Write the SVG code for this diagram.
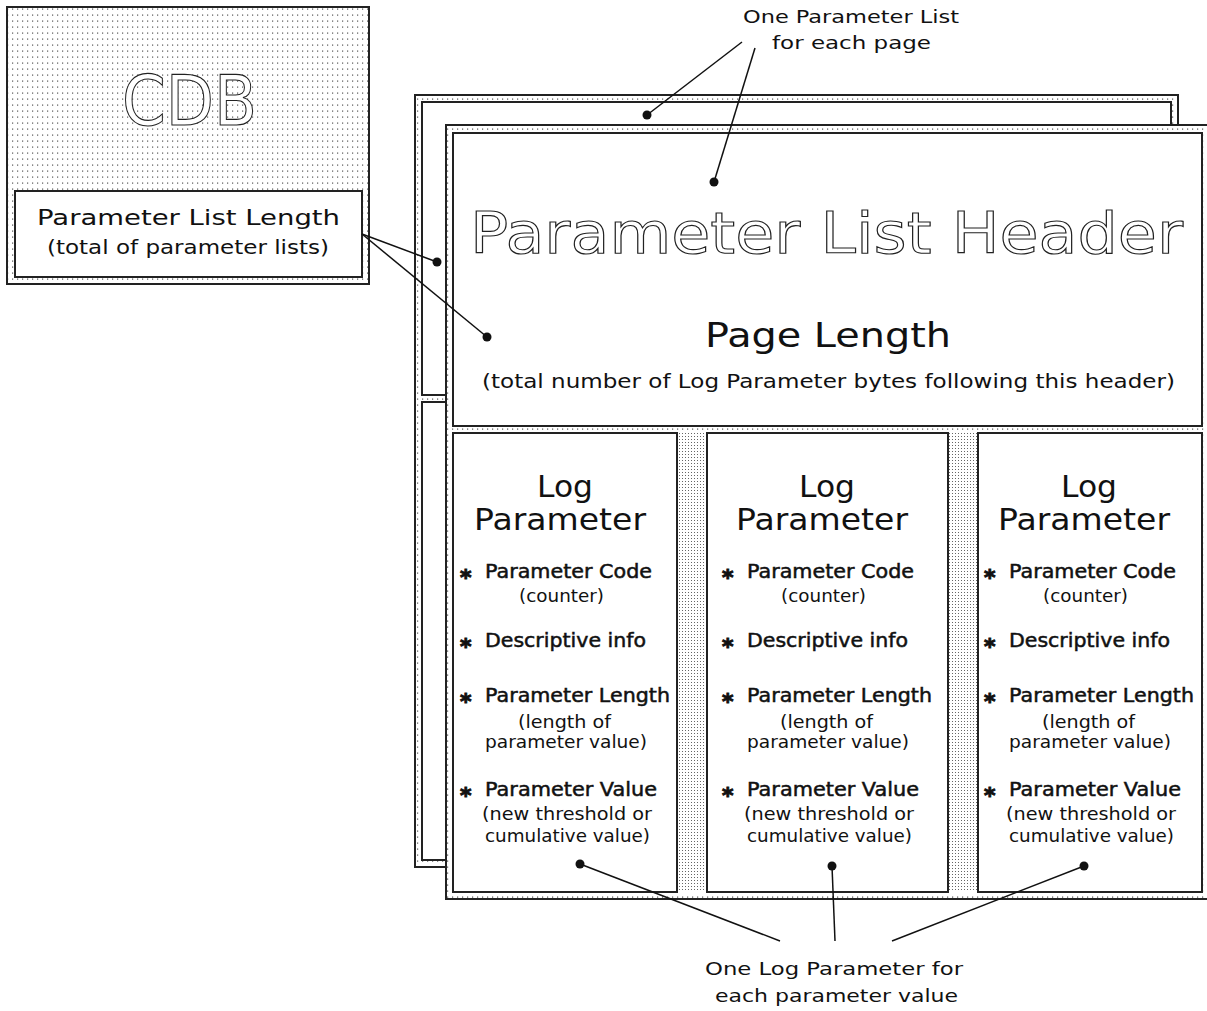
<svg xmlns="http://www.w3.org/2000/svg" width="1207" height="1011" viewBox="0 0 1207 1011">
<defs>
<pattern id="dots" width="5" height="6" patternUnits="userSpaceOnUse">
<rect width="5" height="6" fill="#fff"/>
<rect x="2" y="2.5" width="1.2" height="1.2" fill="#555"/>
</pattern>
<pattern id="dots2" width="3" height="3" patternUnits="userSpaceOnUse">
<rect width="3" height="3" fill="#fff"/>
<rect x="1" y="1" width="1" height="1" fill="#666"/>
</pattern>
</defs>
<style>
.frame{fill:url(#dots);stroke:#222;stroke-width:2}
.box{fill:#fff;stroke:#222;stroke-width:2}
.t{font-family:"DejaVu Sans","Liberation Sans",sans-serif;fill:#111}
.b{font-family:"DejaVu Sans","Liberation Sans",sans-serif;fill:#111;stroke:#111;stroke-width:0.5}
.ast{font-family:"DejaVu Sans","Liberation Sans",sans-serif;fill:#111;stroke:#111;stroke-width:1;font-weight:bold}
.big{font-family:"DejaVu Sans","Liberation Sans",sans-serif;fill:#fff;stroke:#222;stroke-width:1.1}
.ln{stroke:#111;stroke-width:1.5;fill:none}
.dot{fill:#111}
</style>

<g id="cdb">
<rect class="frame" x="7" y="7" width="362" height="277"/>
<text class="big" x="122" y="125" font-size="70" textLength="135" lengthAdjust="spacingAndGlyphs">CDB</text>
<rect class="box" x="15" y="191" width="347" height="86"/>
<text class="t" x="37" y="225" font-size="22" textLength="303" lengthAdjust="spacingAndGlyphs">Parameter List Length</text>
<text class="t" x="47" y="254" font-size="19" textLength="282" lengthAdjust="spacingAndGlyphs">(total of parameter lists)</text>
</g>

<g id="back-page">
<rect class="frame" x="415" y="95" width="763" height="772"/>
<rect class="box" x="422" y="102" width="749" height="293"/>
<rect class="box" x="422" y="402" width="749" height="458"/>
</g>

<g id="front-page">
<rect class="frame" x="446" y="125" width="775" height="774"/>
<rect x="677" y="433" width="30" height="459" fill="url(#dots2)"/>
<rect x="948" y="433" width="30" height="459" fill="url(#dots2)"/>
</g>

<g id="header">
<rect class="box" x="453" y="133" width="749" height="293"/>
<text class="big" x="470" y="253" font-size="57" textLength="713" lengthAdjust="spacingAndGlyphs">Parameter List Header</text>
<text class="t" x="705" y="347" font-size="34" textLength="246" lengthAdjust="spacingAndGlyphs">Page Length</text>
<text class="t" x="482" y="388" font-size="19" textLength="693" lengthAdjust="spacingAndGlyphs">(total number of Log Parameter bytes following this header)</text>
</g>

<g id="log1">
<rect class="box" x="453" y="433" width="224" height="459"/>
<g>
<text class="t" x="537" y="497" font-size="30" textLength="56" lengthAdjust="spacingAndGlyphs">Log</text>
<text class="t" x="474" y="530" font-size="30" textLength="172" lengthAdjust="spacingAndGlyphs">Parameter</text>
<text class="ast" x="460" y="585" font-size="22">*</text>
<text class="b" x="485" y="578" font-size="19" textLength="167" lengthAdjust="spacingAndGlyphs">Parameter Code</text>
<text class="t" x="519" y="602" font-size="17" textLength="85" lengthAdjust="spacingAndGlyphs">(counter)</text>
<text class="ast" x="460" y="654" font-size="22">*</text>
<text class="b" x="485" y="647" font-size="19" textLength="161" lengthAdjust="spacingAndGlyphs">Descriptive info</text>
<text class="ast" x="460" y="709" font-size="22">*</text>
<text class="b" x="485" y="702" font-size="19" textLength="185" lengthAdjust="spacingAndGlyphs">Parameter Length</text>
<text class="t" x="518" y="728" font-size="17" textLength="93" lengthAdjust="spacingAndGlyphs">(length of</text>
<text class="t" x="485" y="748" font-size="17" textLength="162" lengthAdjust="spacingAndGlyphs">parameter value)</text>
<text class="ast" x="460" y="803" font-size="22">*</text>
<text class="b" x="485" y="796" font-size="19" textLength="172" lengthAdjust="spacingAndGlyphs">Parameter Value</text>
<text class="t" x="482" y="820" font-size="17" textLength="170" lengthAdjust="spacingAndGlyphs">(new threshold or</text>
<text class="t" x="485" y="842" font-size="17" textLength="165" lengthAdjust="spacingAndGlyphs">cumulative value)</text>
</g>
</g>

<g id="log2">
<rect class="box" x="707" y="433" width="241" height="459"/>
<g transform="translate(262,0)">
<text class="t" x="537" y="497" font-size="30" textLength="56" lengthAdjust="spacingAndGlyphs">Log</text>
<text class="t" x="474" y="530" font-size="30" textLength="172" lengthAdjust="spacingAndGlyphs">Parameter</text>
<text class="ast" x="460" y="585" font-size="22">*</text>
<text class="b" x="485" y="578" font-size="19" textLength="167" lengthAdjust="spacingAndGlyphs">Parameter Code</text>
<text class="t" x="519" y="602" font-size="17" textLength="85" lengthAdjust="spacingAndGlyphs">(counter)</text>
<text class="ast" x="460" y="654" font-size="22">*</text>
<text class="b" x="485" y="647" font-size="19" textLength="161" lengthAdjust="spacingAndGlyphs">Descriptive info</text>
<text class="ast" x="460" y="709" font-size="22">*</text>
<text class="b" x="485" y="702" font-size="19" textLength="185" lengthAdjust="spacingAndGlyphs">Parameter Length</text>
<text class="t" x="518" y="728" font-size="17" textLength="93" lengthAdjust="spacingAndGlyphs">(length of</text>
<text class="t" x="485" y="748" font-size="17" textLength="162" lengthAdjust="spacingAndGlyphs">parameter value)</text>
<text class="ast" x="460" y="803" font-size="22">*</text>
<text class="b" x="485" y="796" font-size="19" textLength="172" lengthAdjust="spacingAndGlyphs">Parameter Value</text>
<text class="t" x="482" y="820" font-size="17" textLength="170" lengthAdjust="spacingAndGlyphs">(new threshold or</text>
<text class="t" x="485" y="842" font-size="17" textLength="165" lengthAdjust="spacingAndGlyphs">cumulative value)</text>
</g>
</g>

<g id="log3">
<rect class="box" x="978" y="433" width="224" height="459"/>
<g transform="translate(524,0)">
<text class="t" x="537" y="497" font-size="30" textLength="56" lengthAdjust="spacingAndGlyphs">Log</text>
<text class="t" x="474" y="530" font-size="30" textLength="172" lengthAdjust="spacingAndGlyphs">Parameter</text>
<text class="ast" x="460" y="585" font-size="22">*</text>
<text class="b" x="485" y="578" font-size="19" textLength="167" lengthAdjust="spacingAndGlyphs">Parameter Code</text>
<text class="t" x="519" y="602" font-size="17" textLength="85" lengthAdjust="spacingAndGlyphs">(counter)</text>
<text class="ast" x="460" y="654" font-size="22">*</text>
<text class="b" x="485" y="647" font-size="19" textLength="161" lengthAdjust="spacingAndGlyphs">Descriptive info</text>
<text class="ast" x="460" y="709" font-size="22">*</text>
<text class="b" x="485" y="702" font-size="19" textLength="185" lengthAdjust="spacingAndGlyphs">Parameter Length</text>
<text class="t" x="518" y="728" font-size="17" textLength="93" lengthAdjust="spacingAndGlyphs">(length of</text>
<text class="t" x="485" y="748" font-size="17" textLength="162" lengthAdjust="spacingAndGlyphs">parameter value)</text>
<text class="ast" x="460" y="803" font-size="22">*</text>
<text class="b" x="485" y="796" font-size="19" textLength="172" lengthAdjust="spacingAndGlyphs">Parameter Value</text>
<text class="t" x="482" y="820" font-size="17" textLength="170" lengthAdjust="spacingAndGlyphs">(new threshold or</text>
<text class="t" x="485" y="842" font-size="17" textLength="165" lengthAdjust="spacingAndGlyphs">cumulative value)</text>
</g>
</g>

<g id="label-top">
<text class="t" x="743" y="23" font-size="18" textLength="216" lengthAdjust="spacingAndGlyphs">One Parameter List</text>
<text class="t" x="772" y="49" font-size="18" textLength="159" lengthAdjust="spacingAndGlyphs">for each page</text>
</g>

<g id="label-bottom">
<text class="t" x="705" y="975" font-size="18" textLength="258" lengthAdjust="spacingAndGlyphs">One Log Parameter for</text>
<text class="t" x="715" y="1002" font-size="18" textLength="243" lengthAdjust="spacingAndGlyphs">each parameter value</text>
</g>

<g id="connectors">
<line class="ln" x1="742" y1="42" x2="647" y2="115"/>
<line class="ln" x1="755" y1="48" x2="714" y2="182"/>
<line class="ln" x1="362" y1="234" x2="437" y2="262"/>
<line class="ln" x1="362" y1="234" x2="487" y2="337"/>
<line class="ln" x1="580" y1="864" x2="780" y2="941"/>
<line class="ln" x1="832" y1="866" x2="835" y2="941"/>
<line class="ln" x1="1084" y1="866" x2="892" y2="941"/>
<circle class="dot" cx="647" cy="115" r="4.5"/>
<circle class="dot" cx="714" cy="182" r="4.5"/>
<circle class="dot" cx="437" cy="262" r="4.5"/>
<circle class="dot" cx="487" cy="337" r="4.5"/>
<circle class="dot" cx="580" cy="864" r="4.5"/>
<circle class="dot" cx="832" cy="866" r="4.5"/>
<circle class="dot" cx="1084" cy="866" r="4.5"/>
</g>
</svg>
